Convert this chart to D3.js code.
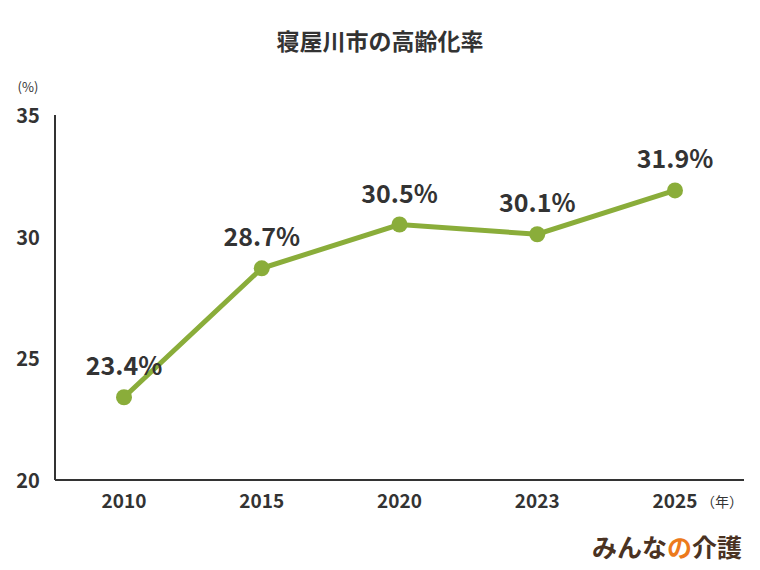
<!DOCTYPE html>
<html>
<head>
<meta charset="utf-8">
<script src="https://cdn.jsdelivr.net/npm/d3@7"></script>
<style>
  body { margin: 0; background: #fff; }
  text { font-family: "Noto Sans CJK JP", "Noto Sans", sans-serif; fill: #333; }
</style>
</head>
<body>
<svg id="chart" width="760" height="570"></svg>
<script>
// data
var years = ["2010", "2015", "2020", "2023", "2025"];
var rates = [23.4, 28.7, 30.5, 30.1, 31.9];
var yTicks = [20, 25, 30, 35];

var svg = d3.select("#chart");
var plotLeft = 55, plotRight = 744, plotTop = 115, plotBottom = 480;

var x = d3.scalePoint().domain(years).range([124, 675]);
var y = d3.scaleLinear().domain([20, 35]).range([plotBottom, plotTop]);

// title
svg.append("text")
    .attr("x", 380).attr("y", 50)
    .attr("text-anchor", "middle")
    .attr("font-size", 23).attr("font-weight", "bold")
    .text("寝屋川市の高齢化率");

// axes
svg.append("line").attr("x1", plotLeft).attr("x2", plotLeft).attr("y1", plotTop).attr("y2", plotBottom)
    .attr("stroke", "#333").attr("stroke-width", 2);
svg.append("line").attr("x1", plotLeft).attr("x2", plotRight).attr("y1", plotBottom).attr("y2", plotBottom)
    .attr("stroke", "#333").attr("stroke-width", 2);

svg.selectAll(".ytick").data(yTicks).enter().append("text")
    .attr("x", 28).attr("y", function(d) { return y(d) + 8; })
    .attr("text-anchor", "middle")
    .attr("font-size", 20).attr("font-weight", "bold")
    .text(function(d) { return d; });

svg.append("text").attr("x", 28).attr("y", 92).attr("text-anchor", "middle")
    .attr("font-size", 13).text("(%)");

svg.selectAll(".xtick").data(years).enter().append("text")
    .attr("x", function(d) { return x(d); }).attr("y", 508)
    .attr("text-anchor", "middle")
    .attr("font-size", 19).attr("font-weight", "bold")
    .text(function(d) { return d; });

svg.append("text").attr("x", 722).attr("y", 507).attr("text-anchor", "middle")
    .attr("font-size", 14).text("（年）");

// line
var line = d3.line()
    .x(function(d, i) { return x(years[i]); })
    .y(function(d) { return y(d); });

svg.append("path").datum(rates)
    .attr("d", line)
    .attr("fill", "none").attr("stroke", "#8aad3a").attr("stroke-width", 5);

svg.selectAll(".dot").data(rates).enter().append("circle")
    .attr("cx", function(d, i) { return x(years[i]); })
    .attr("cy", function(d) { return y(d); })
    .attr("r", 8).attr("fill", "#8aad3a");

svg.selectAll(".lbl").data(rates).enter().append("text")
    .attr("x", function(d, i) { return x(years[i]); })
    .attr("y", function(d) { return y(d) - 22; })
    .attr("text-anchor", "middle")
    .attr("font-size", 25).attr("font-weight", "bold")
    .text(function(d) { return d.toFixed(1) + "%"; });

// logo
var logo = svg.append("text").attr("x", 742).attr("y", 557).attr("text-anchor", "end")
    .attr("font-size", 25).attr("font-weight", "bold");
logo.append("tspan").style("fill", "#4a3222").text("みんな");
logo.append("tspan").style("fill", "#ec7a1c").text("の");
logo.append("tspan").style("fill", "#4a3222").text("介護");
</script>
</body>
</html>
